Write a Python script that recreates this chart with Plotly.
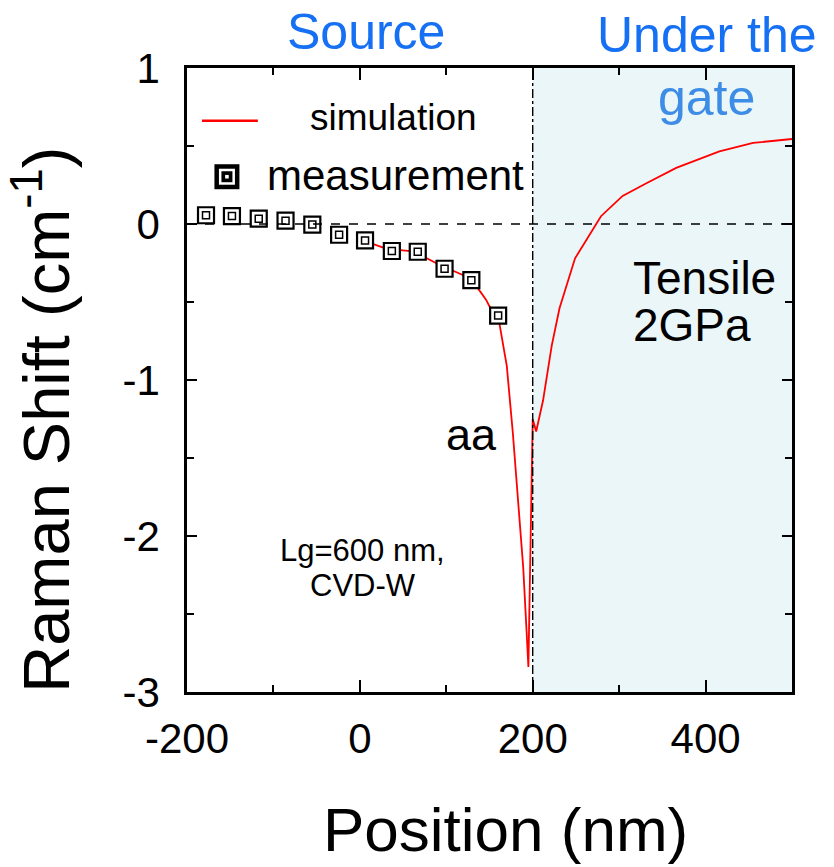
import plotly.graph_objects as go

# ---- data ----
meas_x = [-178, -148, -117, -86, -55, -24, 6, 37, 67, 98, 129, 160]
meas_y = [0.056, 0.051, 0.034, 0.021, -0.004, -0.069, -0.105, -0.173, -0.178, -0.287, -0.36, -0.587]

sim_x = [6, 31, 62, 92, 123, 135, 146, 150, 160, 170, 177, 183, 189, 193, 195,
         200, 204, 212, 222, 231, 249, 279, 304, 331, 366, 416, 455, 500]
sim_y = [-0.11, -0.16, -0.176, -0.261, -0.336, -0.40, -0.485, -0.528, -0.59, -0.91, -1.34, -1.77, -2.2, -2.62, -2.84,
         -1.25, -1.33, -1.13, -0.78, -0.54, -0.22, 0.05, 0.18, 0.26, 0.36, 0.465, 0.52, 0.545]

x_ticks = [-200, 0, 200, 400]
x_labels = ["-200", "0", "200", "400"]
y_ticks = [-3, -2, -1, 0, 1]
y_labels = ["-3", "-2", "-1", "0", "1"]

FONT = "Liberation Sans, Arial, sans-serif"
BLUE = "#1670f4"

fig = go.Figure()

fig.add_trace(go.Scatter(x=sim_x, y=sim_y, mode="lines",
                         line=dict(color="#ff0000", width=1.8), showlegend=False))
fig.add_trace(go.Scatter(x=meas_x, y=meas_y, mode="markers",
                         marker=dict(symbol="square", size=16, color="white",
                                     line=dict(color="black", width=2.2)), showlegend=False))
fig.add_trace(go.Scatter(x=meas_x, y=meas_y, mode="markers",
                         marker=dict(symbol="square", size=7, color="white",
                                     line=dict(color="black", width=1.5)), showlegend=False))

shapes = [
    dict(type="rect", xref="x", yref="y", x0=200, x1=500, y0=-3, y1=1,
         fillcolor="#ebf6f8", line=dict(width=0), layer="below"),
    dict(type="line", xref="x", yref="y", x0=-200, x1=500, y0=0, y1=0,
         line=dict(color="black", width=1.4, dash="dash"), layer="above"),
    dict(type="line", xref="x", yref="y", x0=200, x1=200, y0=-3, y1=1,
         line=dict(color="black", width=1.4, dash="dashdot"), layer="above"),
    # legend glyphs
    dict(type="line", xref="x", yref="y", x0=-182.7, x1=-118, y0=0.662, y1=0.662,
         line=dict(color="#ff0000", width=2.5)),
]
for half, col in [(12.5, "black"), (8, "white"), (5.5, "black"), (1.8, "white")]:
    shapes.append(dict(type="rect", xref="x", yref="y",
                       xsizemode="pixel", ysizemode="pixel",
                       xanchor=-153.8, yanchor=0.303,
                       x0=-half, x1=half, y0=-half, y1=half,
                       fillcolor=col, line=dict(width=0)))

ann = [
    dict(text="gate", x=401, y=0.81, font=dict(size=50, color="#3d8ce6")),
    dict(text="simulation", x=-60, y=0.681, xanchor="left", font=dict(size=37, color="black")),
    dict(text="measurement", x=-109.8, y=0.31, xanchor="left", font=dict(size=42, color="black")),
    dict(text="Tensile", x=314, y=-0.344, xanchor="left", font=dict(size=46, color="black")),
    dict(text="2GPa", x=314, y=-0.645, xanchor="left", font=dict(size=46, color="black")),
    dict(text="aa", x=129.5, y=-1.35, font=dict(size=45, color="black")),
    dict(text="Lg=600 nm,", x=3.5, y=-2.09, font=dict(size=31, color="black")),
    dict(text="CVD-W", x=3.5, y=-2.32, font=dict(size=31, color="black")),
]
annotations = []
for a in ann:
    d = dict(xref="x", yref="y", showarrow=False, xanchor="center", yanchor="middle")
    d.update(a)
    d["font"] = dict(family=FONT, **a["font"])
    annotations.append(d)

for text, x, y in [("Source", 0.296, 1.058), ("Under the", 0.86, 1.053)]:
    annotations.append(dict(text=text, xref="paper", yref="paper", x=x, y=y,
                            showarrow=False, xanchor="center", yanchor="middle",
                            font=dict(family=FONT, size=50, color=BLUE)))

annotations.append(dict(text="Raman Shift (cm<sup>-1</sup>)", xref="paper", yref="paper",
                        x=-0.24, y=0.436, textangle=-90, showarrow=False,
                        xanchor="center", yanchor="middle",
                        font=dict(family=FONT, size=65, color="black")))
annotations.append(dict(text="Position (nm)", xref="paper", yref="paper",
                        x=0.527, y=-0.221, showarrow=False,
                        xanchor="center", yanchor="middle",
                        font=dict(family=FONT, size=62, color="black")))

fig.update_layout(
    width=834, height=859,
    margin=dict(l=179, r=50, t=60, b=175),
    paper_bgcolor="white", plot_bgcolor="white",
    shapes=shapes, annotations=annotations,
    font=dict(family=FONT, color="black"),
)
fig.update_xaxes(range=[-200, 500], tickvals=x_ticks, ticktext=x_labels, ticks="inside", ticklen=12, tickwidth=1.5,
                 tickcolor="black", showline=True, linecolor="black", linewidth=2.5,
                 mirror="allticks", showgrid=False, zeroline=False,
                 tickfont=dict(family=FONT, size=42, color="black"), ticklabelstandoff=8,
                 minor=dict(dtick=100, tick0=-200, ticks="inside", ticklen=7, tickcolor="black", tickwidth=1.5))
fig.update_yaxes(range=[-3, 1], tickvals=y_ticks, ticktext=y_labels, ticks="inside", ticklen=10, tickwidth=1.5,
                 tickcolor="black", showline=True, linecolor="black", linewidth=2.5,
                 mirror="allticks", showgrid=False, zeroline=False,
                 tickfont=dict(family=FONT, size=42, color="black"), ticklabelstandoff=16,
                 minor=dict(dtick=0.5, tick0=0, ticks="inside", ticklen=7, tickcolor="black", tickwidth=1.5))

fig.write_html("out.html")
